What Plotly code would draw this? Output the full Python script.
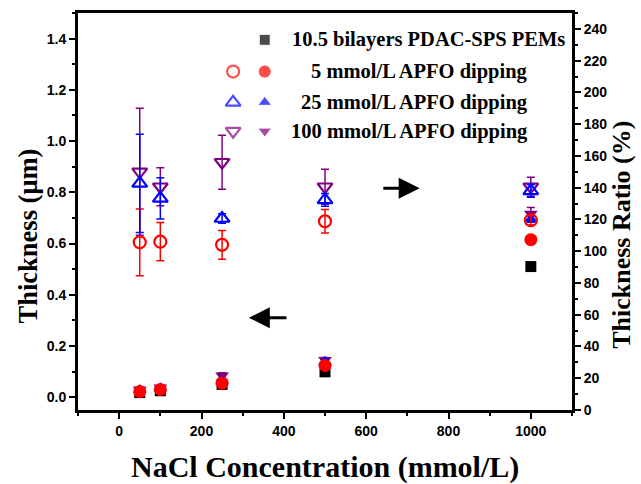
import plotly.graph_objects as go

# ---------------- data ----------------
nacl = [50, 100, 250, 500, 1000]

# thickness (um) - left axis, filled markers
thk_pems = [0.018, 0.025, 0.050, 0.099, 0.510]
thk_5 = [0.022, 0.030, 0.055, 0.124, 0.615]
thk_5_err = [0.008, 0.008, 0.008, 0.010, 0.010]
thk_25 = [0.028, 0.035, 0.062, 0.138, 0.695]
thk_25_err = [0.008, 0.008, 0.008, 0.010, 0.012]
thk_100 = [0.030, 0.038, 0.085, 0.145, 0.716]
thk_100_err = [0.008, 0.008, 0.010, 0.010, 0.025]

# thickness ratio (%) - right axis, open markers
ratio_5 = [105.6, 106.0, 104.0, 118.8, 119.5]
ratio_5_err = [21.0, 12.0, 9.0, 7.4, 3.0]
ratio_25 = [142.7, 133.3, 120.6, 132.3, 138.0]
ratio_25_err = [31.0, 13.0, 3.0, 4.0, 4.0]
ratio_100 = [150.0, 140.6, 156.0, 140.6, 140.6]
ratio_100_err = [40.0, 12.0, 17.0, 11.0, 6.0]

names = ["10.5 bilayers PDAC-SPS PEMs", "5 mmol/L APFO dipping",
         "25 mmol/L APFO dipping", "100 mmol/L APFO dipping"]

x_title = "NaCl Concentration (mmol/L)"
y_title = "Thickness (μm)"
y2_title = "Thickness Ratio (%)"

x_ticks = [0, 200, 400, 600, 800, 1000]
y_ticks = [0.0, 0.2, 0.4, 0.6, 0.8, 1.0, 1.2, 1.4]
y2_ticks = list(range(0, 241, 20))

RED = "#ff0000"
BLUE = "#0000ff"
PURPLE = "#800080"
BLACK = "#000000"

SERIF = "Liberation Serif"
SANS = "Liberation Sans"

fig = go.Figure()


def err(vals, color):
    return dict(type="data", array=vals, visible=True, color=color,
                thickness=1.5, width=4)


# filled markers (thickness, left axis)
fig.add_trace(go.Scatter(x=nacl, y=thk_pems, mode="markers", name=names[0],
                         marker=dict(symbol="square", size=11, color=BLACK),
                         showlegend=False))
fig.add_trace(go.Scatter(x=nacl, y=thk_100, mode="markers", name=names[3],
                         error_y=err(thk_100_err, PURPLE),
                         marker=dict(symbol="triangle-down", size=12, color=PURPLE),
                         showlegend=False))
fig.add_trace(go.Scatter(x=nacl, y=thk_25, mode="markers", name=names[2],
                         error_y=err(thk_25_err, BLUE),
                         marker=dict(symbol="triangle-up", size=12, color=BLUE),
                         showlegend=False))
fig.add_trace(go.Scatter(x=nacl, y=thk_5, mode="markers", name=names[1],
                         error_y=err(thk_5_err, RED),
                         marker=dict(symbol="circle", size=13, color=RED),
                         showlegend=False))

# open markers (ratio, right axis)
fig.add_trace(go.Scatter(x=nacl, y=ratio_5, yaxis="y2", mode="markers",
                         name=names[1] + " ratio",
                         error_y=err(ratio_5_err, RED),
                         marker=dict(symbol="circle-open", size=12, color=RED,
                                     line=dict(width=2.2, color=RED)),
                         showlegend=False))
fig.add_trace(go.Scatter(x=nacl, y=ratio_100, yaxis="y2", mode="markers",
                         name=names[3] + " ratio",
                         error_y=err(ratio_100_err, PURPLE),
                         marker=dict(symbol="triangle-down-open", size=13, color=PURPLE,
                                     line=dict(width=2.2, color=PURPLE)),
                         showlegend=False))
fig.add_trace(go.Scatter(x=nacl, y=ratio_25, yaxis="y2", mode="markers",
                         name=names[2] + " ratio",
                         error_y=err(ratio_25_err, BLUE),
                         marker=dict(symbol="triangle-up-open", size=13, color=BLUE,
                                     line=dict(width=2.2, color=BLUE)),
                         showlegend=False))

# ---------------- manual legend (paper-fraction overlay axes) ----------------
leg_rows = [0.9325, 0.8525, 0.775, 0.7025]
leg_open_x = 0.314
leg_fill_x = 0.378
fig.add_trace(go.Scatter(
    x=[leg_fill_x] * 4, y=leg_rows, xaxis="x3", yaxis="y3", mode="markers",
    marker=dict(symbol=["square", "circle", "triangle-up", "triangle-down"],
                size=[11, 13, 12, 12], color=[BLACK, RED, BLUE, PURPLE]),
    hoverinfo="skip", showlegend=False))
fig.add_trace(go.Scatter(
    x=[leg_open_x] * 3, y=leg_rows[1:], xaxis="x3", yaxis="y3", mode="markers",
    marker=dict(symbol=["circle-open", "triangle-up-open", "triangle-down-open"],
                size=[12, 13, 13], color=[RED, BLUE, PURPLE],
                line=dict(width=2.2, color=[RED, BLUE, PURPLE])),
    hoverinfo="skip", showlegend=False))

annotations = []
legfont = dict(family=SERIF, size=20.5, color="black", weight="bold")
annotations.append(dict(x=0.429, y=leg_rows[0], xref="paper", yref="paper",
                        text=names[0], showarrow=False, xanchor="left",
                        yanchor="middle", font=legfont))
for i in range(1, 4):
    annotations.append(dict(x=0.915, y=leg_rows[i], xref="paper", yref="paper",
                            text=names[i], showarrow=False, xanchor="right",
                            yanchor="middle", font=legfont))

# axis titles
titlefont = dict(family=SERIF, size=30, color="black", weight="bold")
annotations.append(dict(x=0.5, y=-0.1425, xref="paper", yref="paper",
                        text=x_title, showarrow=False, xanchor="center",
                        yanchor="middle", font=titlefont))
annotations.append(dict(x=-0.101, y=0.4375, xref="paper", yref="paper",
                        text=y_title, showarrow=False, xanchor="center",
                        yanchor="middle", textangle=-90,
                        font=dict(titlefont, size=26.5)))
annotations.append(dict(x=1.101, y=0.441, xref="paper", yref="paper",
                        text=y2_title, showarrow=False, xanchor="center",
                        yanchor="middle", textangle=-90,
                        font=dict(titlefont, size=26)))

# arrows
annotations.append(dict(x=315, y=0.31, ax=410, ay=0.31, xref="x", yref="y",
                        axref="x", ayref="y", showarrow=True, arrowhead=2,
                        arrowsize=1.4, arrowwidth=3, arrowcolor="black", text=""))
annotations.append(dict(x=730, y=139.6, ax=638, ay=139.6, xref="x", yref="y2",
                        axref="x", ayref="y2", showarrow=True, arrowhead=2,
                        arrowsize=1.4, arrowwidth=3, arrowcolor="black", text=""))

tickfont = dict(family=SANS, size=14, color="black", weight="bold")
common = dict(showline=True, linewidth=3, linecolor="black", ticks="outside",
              ticklen=6, tickwidth=2, tickcolor="black", showgrid=False,
              zeroline=False, tickfont=tickfont)

fig.update_layout(
    width=641, height=484,
    margin=dict(l=78, r=69, t=10, b=74),
    paper_bgcolor="white", plot_bgcolor="white",
    showlegend=False,
    xaxis=dict(range=[-100, 1100], tickvals=x_ticks, mirror=True,
               minor=dict(dtick=100, ticklen=3, tickwidth=2, ticks="outside",
                          tickcolor="black"),
               **common),
    yaxis=dict(range=[-0.05, 1.5], tickvals=y_ticks, tickformat=".1f",
               minor=dict(dtick=0.1, ticklen=3, tickwidth=2, ticks="outside",
                          tickcolor="black"),
               **common),
    yaxis2=dict(range=[0, 250], tickvals=y2_ticks, overlaying="y", side="right",
                minor=dict(dtick=10, ticklen=3, tickwidth=2, ticks="outside",
                           tickcolor="black"),
                **common),
    xaxis3=dict(range=[0, 1], overlaying="x", visible=False),
    yaxis3=dict(range=[0, 1], overlaying="y", visible=False),
    annotations=annotations,
)

fig.write_html("out.html")
